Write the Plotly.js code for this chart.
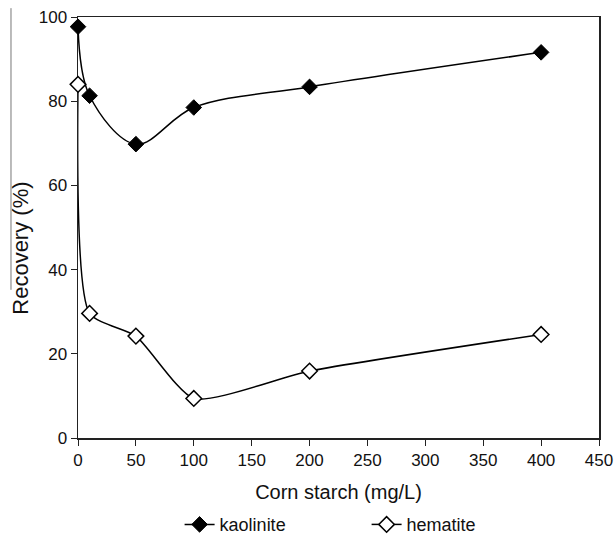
<!DOCTYPE html>
<html>
<head>
<meta charset="utf-8">
<script src="https://cdn.plot.ly/plotly-3.0.1.min.js"></script>
<style>
html,body{margin:0;padding:0;background:#fff;}
#chart{width:616px;height:534px;}
</style>
</head>
<body>
<div id="chart"></div>
<script>
// Data
const cornStarch = [0, 10, 50, 100, 200, 400];            // mg/L
const kaolinite  = [97.7, 81.3, 69.8, 78.5, 83.4, 91.6];  // Recovery %
const hematite   = [84.0, 29.6, 24.2, 9.4, 15.9, 24.6];   // Recovery %
const seriesNames = ['kaolinite', 'hematite'];
const xTicks = [0, 50, 100, 150, 200, 250, 300, 350, 400, 450];
const yTicks = [0, 20, 40, 60, 80, 100];
const xTitle = 'Corn starch (mg/L)';
const yTitle = 'Recovery (%)';

const FONT = 'Liberation Sans, Arial, sans-serif';

const traces = [
  {
    x: cornStarch, y: kaolinite, name: seriesNames[0],
    type: 'scatter', mode: 'lines+markers', cliponaxis: false,
    line: {color: '#000', width: 1.5, shape: 'spline', smoothing: 1},
    marker: {symbol: 'diamond', size: 12, color: '#000', line: {color: '#000', width: 1}}
  },
  {
    x: cornStarch, y: hematite, name: seriesNames[1],
    type: 'scatter', mode: 'lines+markers', cliponaxis: false,
    line: {color: '#000', width: 1.5, shape: 'spline', smoothing: 0.6},
    marker: {symbol: 'diamond', size: 12, color: '#fff', line: {color: '#000', width: 1.5}}
  }
];

const layout = {
  width: 616, height: 534,
  margin: {l: 78, r: 17, t: 17, b: 96, autoexpand: false},
  paper_bgcolor: '#fff', plot_bgcolor: '#fff',
  font: {family: FONT, size: 17, color: '#111'},
  showlegend: true,
  legend: {
    orientation: 'h', x: 0.195, xanchor: 'left', y: -0.162, yanchor: 'top',
    font: {family: FONT, size: 18, color: '#111'},
    entrywidth: 142, itemwidth: 30, bgcolor: 'rgba(0,0,0,0)'
  },
  xaxis: {
    range: [0, 450], tickvals: xTicks, ticktext: xTicks.map(String),
    showgrid: false, zeroline: false, layer: 'below traces',
    showline: true, linecolor: '#222', linewidth: 1.5, mirror: true,
    ticks: 'outside', ticklen: 6, tickcolor: '#222', tickwidth: 1,
    tickfont: {family: FONT, size: 17, color: '#111'},
    title: {text: xTitle, font: {family: FONT, size: 20, color: '#111'}, standoff: 16}
  },
  yaxis: {
    range: [0, 100], tickvals: yTicks, ticktext: yTicks.map(String),
    showgrid: false, zeroline: false, layer: 'below traces',
    showline: true, linecolor: '#222', linewidth: 1.5, mirror: true,
    ticks: 'outside', ticklen: 6, tickcolor: '#222', tickwidth: 1,
    tickfont: {family: FONT, size: 17, color: '#111'}
  },
  annotations: [
    {
      text: yTitle, textangle: -90, showarrow: false,
      xref: 'paper', yref: 'paper', x: -0.111, y: 0.45,
      xanchor: 'center', yanchor: 'middle',
      font: {family: FONT, size: 22, color: '#111'}
    }
  ],
  shapes: [
    {
      type: 'line', xref: 'paper', yref: 'paper',
      x0: -0.1286, x1: -0.1286, y0: 1.021, y1: 0.352,
      line: {color: '#777', width: 1}
    }
  ]
};

Plotly.newPlot('chart', traces, layout, {displayModeBar: false, staticPlot: true});
</script>
</body>
</html>
